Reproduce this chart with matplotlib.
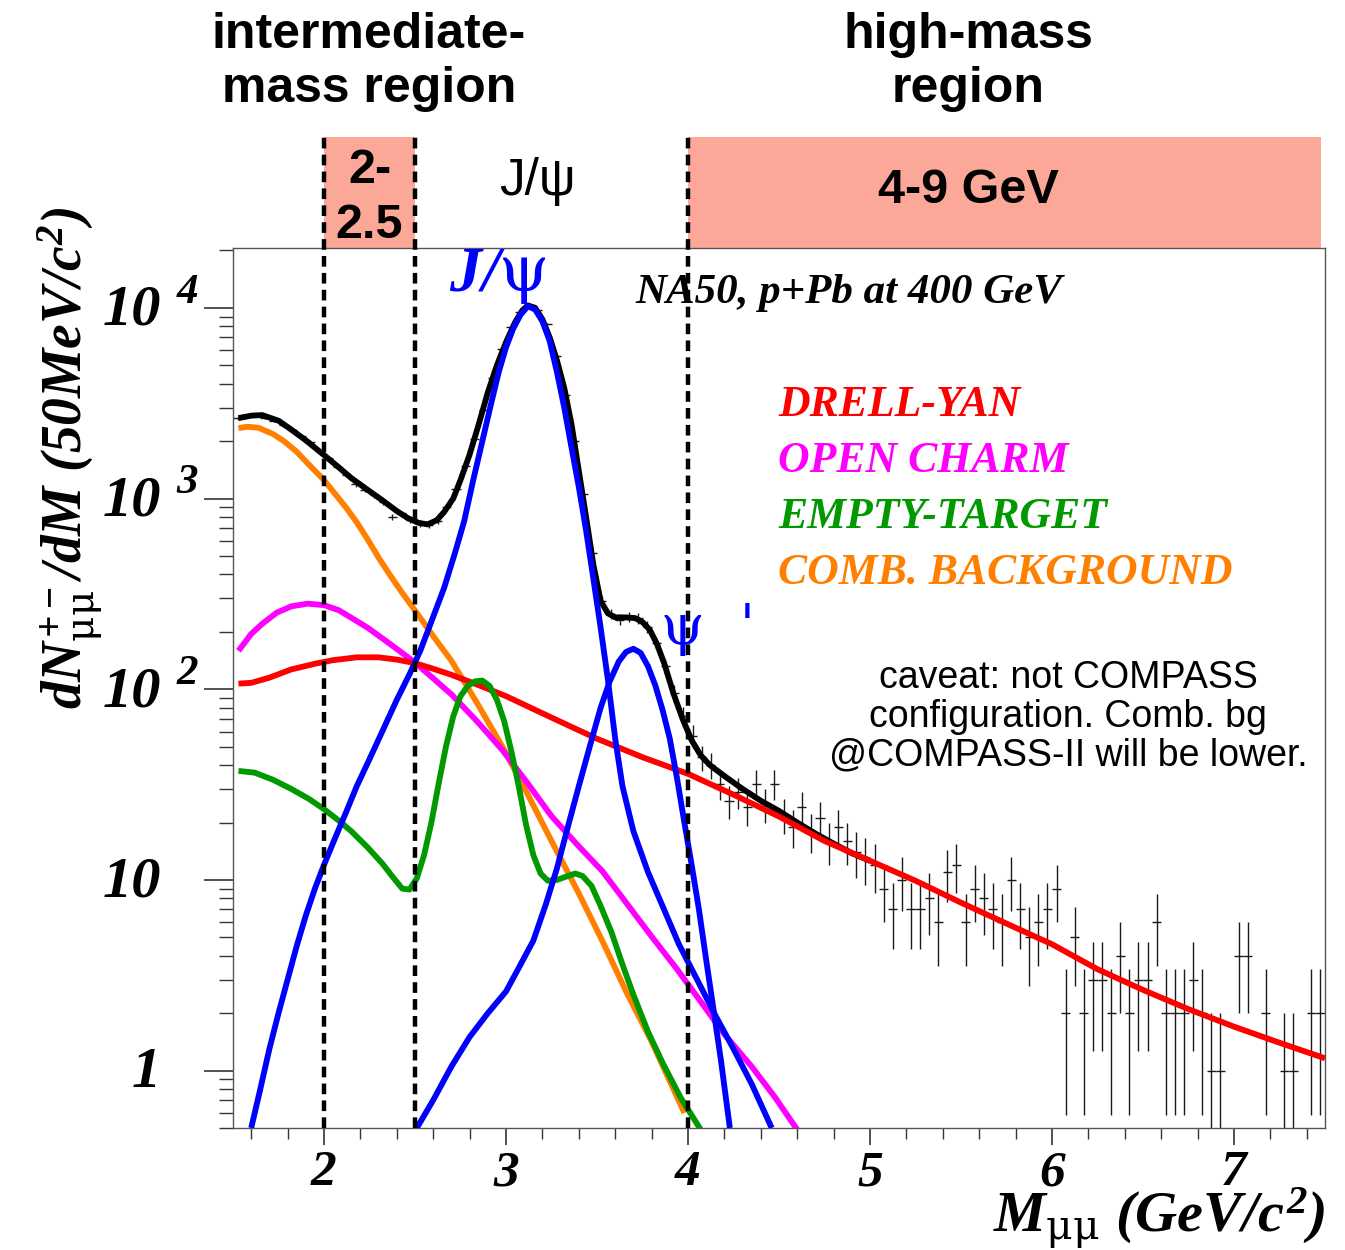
import numpy as np
import matplotlib
matplotlib.use("Agg")
import matplotlib.pyplot as plt
import matplotlib.transforms as mtransforms
from matplotlib.patches import Rectangle

plt.rcParams['mathtext.fontset'] = 'custom'
plt.rcParams['mathtext.rm'] = 'Liberation Serif:bold:italic'
plt.rcParams['mathtext.it'] = 'Liberation Serif:bold:italic'
plt.rcParams['mathtext.bf'] = 'Liberation Serif:bold:italic'
plt.rcParams['mathtext.sf'] = 'DejaVu Serif'

# ---- measured dimuon spectrum, 50 MeV bins (counts) ----
data_m = np.round(np.arange(1.525, 7.5, 0.05), 3)
data_n = [2640, 2730, 2720, 2650, 2560, 2430, 2280, 2120, 1980, 1780,
          1640, 1470, 1330, 1190, 1110, 1040, 960, 800, 835, 770,
          740, 725, 760, 900, 1120, 1480, 2050, 2900, 4300, 6100,
          7900, 9500, 10300, 9800, 8200, 5600, 3500, 2000, 1050, 520,
          290, 248, 232, 240, 236, 212, 175, 132, 95, 72,
          57, 44,
          40, 32, 26, 29, 24, 32, 25, 32, 22, 19,
          24, 18, 21, 16, 19, 16, 14, 13, 12, 9,
          7, 10, 7, 7, 8, 6, 11, 12, 6, 9,
          8, 7, 6, 10, 7, 5, 6, 7, 9, 2,
          5, 2, 3, 3, 2, 4, 2, 3, 3, 6,
          2, 2, 2, 3, 2, 1, 1, 0, 4, 4,
          0, 2, 0, 1, 1, 0, 2, 2]

# ---- fit components ----
total_m = [1.53, 1.60, 1.66, 1.75, 1.82, 1.90, 2.00, 2.08, 2.15, 2.24, 2.32, 2.40,
           2.46, 2.52, 2.57, 2.62, 2.66, 2.71, 2.75, 2.80, 2.85, 2.90, 2.95, 3.00,
           3.05, 3.09, 3.12, 3.16, 3.20, 3.24, 3.28, 3.32, 3.36, 3.40, 3.44, 3.48,
           3.52, 3.56, 3.60, 3.66, 3.71, 3.75, 3.79, 3.83, 3.87, 3.92, 3.97, 4.02,
           4.07, 4.12, 4.21, 4.30, 4.40, 4.50, 4.60, 4.70, 4.80, 4.90, 5.00]
total_y = [2640, 2720, 2740, 2560, 2300, 2020, 1690, 1460, 1280, 1110, 980, 860,
           790, 745, 732, 770, 850, 1000, 1250, 1700, 2450, 3600, 5000, 6600,
           8400, 9700, 10300, 10000, 8700, 7000, 5300, 3800, 2450, 1400, 800, 450,
           290, 250, 238, 238, 236, 225, 205, 172, 136, 95, 70, 54,
           45, 40, 34.5, 30, 26, 23, 20, 17.5, 15.5, 13.8, 12.6]

dy_m = [1.53, 1.60, 1.70, 1.82, 1.95, 2.05, 2.18, 2.30, 2.40, 2.50, 2.60, 2.70,
        2.85, 3.00, 3.25, 3.50, 3.75, 4.00, 4.25, 4.50, 4.75, 5.00, 5.25, 5.50,
        5.75, 6.00, 6.25, 6.50, 6.75, 7.00, 7.25, 7.50]
dy_y = [107, 108, 115, 127, 136, 142, 147, 147, 143, 137, 128, 119,
        105, 92, 71, 55, 44, 36, 28, 21.5, 16, 12.6, 9.9, 7.6,
        5.9, 4.6, 3.4, 2.65, 2.1, 1.7, 1.4, 1.16]

charm_m = [1.53, 1.60, 1.66, 1.74, 1.82, 1.91, 2.00, 2.08, 2.15, 2.24, 2.32, 2.41,
           2.50, 2.60, 2.70, 2.84, 2.98, 3.12, 3.25, 3.40, 3.53, 3.66, 3.80, 3.94,
           4.07, 4.20, 4.35, 4.48, 4.60]
charm_y = [159, 195, 220, 252, 272, 281, 276, 260, 237, 210, 185, 160,
           138, 114, 94, 68, 48, 32, 21.6, 15, 11.1, 7.6, 5.05, 3.4,
           2.3, 1.55, 1.05, 0.72, 0.49]

empty_m = [1.53, 1.62, 1.72, 1.82, 1.92, 2.00, 2.08, 2.15, 2.24, 2.32, 2.38, 2.43,
           2.47, 2.51, 2.55, 2.59, 2.63, 2.67, 2.71, 2.75, 2.79, 2.83, 2.87, 2.91,
           2.95, 2.99, 3.03, 3.07, 3.11, 3.15, 3.19, 3.23, 3.28, 3.33, 3.38, 3.42,
           3.47, 3.52, 3.58, 3.64, 3.70, 3.78, 3.86, 3.96, 4.07]
empty_y = [37.3, 36.5, 33.5, 30, 26.5, 23.5, 20.5, 18, 14.8, 12.2, 10.3, 9.0,
           8.9, 10.2, 13.5, 20, 32, 50, 72, 92, 104, 110, 111, 104,
           88, 68, 47, 31, 19.5, 13.5, 10.8, 9.9, 10.0, 10.4, 10.8, 10.5,
           9.3, 7.3, 5.3, 3.6, 2.5, 1.6, 1.1, 0.72, 0.49]

comb_m = [1.53, 1.58, 1.64, 1.72, 1.78, 1.85, 1.91, 2.00, 2.06, 2.12, 2.18, 2.24,
          2.30, 2.36, 2.43, 2.50, 2.60, 2.70, 2.84, 2.98, 3.12, 3.25, 3.40, 3.53,
          3.66, 3.80, 3.90, 3.98]
comb_y = [2340, 2380, 2350, 2180, 2000, 1760, 1530, 1250, 1060, 900, 750, 610,
          490, 400, 320, 259, 190, 141, 85, 50, 28, 16, 8.5, 4.77,
          2.6, 1.42, 0.88, 0.6]

jpsi_m = [1.60, 1.65, 1.70, 1.75, 1.80, 1.85, 1.90, 1.95, 2.00, 2.06, 2.12, 2.18,
          2.25, 2.32, 2.40, 2.47, 2.53, 2.60, 2.66, 2.72, 2.77, 2.82, 2.87, 2.92,
          2.96, 3.00, 3.04, 3.08, 3.12, 3.16, 3.20, 3.24, 3.28, 3.32, 3.36, 3.40,
          3.44, 3.48, 3.52, 3.56, 3.60, 3.64, 3.70, 3.78, 3.86, 3.95, 4.05, 4.15,
          4.25, 4.35, 4.46]
jpsi_y = [0.5, 0.8, 1.3, 2.0, 3.0, 4.5, 6.5, 9.0, 12, 16.5, 22.5, 31,
          43, 60, 88, 120, 160, 240, 340, 520, 760, 1250, 2000, 3200,
          4600, 6200, 7800, 9200, 10200, 9800, 8500, 6700, 4600, 3000, 1850, 1150,
          680, 380, 210, 112, 55, 31, 18, 11, 7.3, 4.6, 3.0, 1.95,
          1.3, 0.85, 0.5]

psip_m = [2.51, 2.60, 2.70, 2.80, 2.90, 3.00, 3.08, 3.15, 3.22, 3.28, 3.34, 3.40,
          3.46, 3.52, 3.57, 3.62, 3.66, 3.70, 3.74, 3.78, 3.82, 3.86, 3.90, 3.94,
          3.98, 4.02, 4.06, 4.10, 4.14, 4.18, 4.23]
psip_y = [0.5, 0.7, 1.05, 1.5, 2.0, 2.6, 3.6, 4.8, 7.5, 11.5, 19, 31,
          50, 80, 110, 140, 157, 163, 155, 132, 105, 78, 55, 34,
          20, 12, 7, 3.8, 2.1, 1.15, 0.5]

region_edges = [2.0, 2.5, 4.0]
y_ticks = [1, 10, 100, 1000, 10000]
y_tick_text = [("1", ""), ("10", ""), ("10", "2"), ("10", "3"), ("10", "4")]
legend_items = [("DRELL-YAN", "#ff0000"), ("OPEN CHARM", "#ff00ff"),
                ("EMPTY-TARGET", "#009900"), ("COMB. BACKGROUND", "#ff8000")]

W, H = 1345, 1250
fig = plt.figure(figsize=(W / 100, H / 100), dpi=100)
ax = fig.add_axes([233 / W, 1 - 1128 / H, (1325 - 233) / W, (1128 - 248) / H])
ax.set_yscale('log')
ax.set_xlim(1.5, 7.5)
ax.set_ylim(0.5, 2.06e4)

serif = dict(family='Liberation Serif', weight='bold', style='italic')
sans = dict(family='Liberation Sans', weight='bold')

# data with sqrt(N) errors, empty bins skipped
m = np.array(data_m)
n = np.array(data_n, dtype=float)
ok = n > 0
err_lo = np.minimum(np.sqrt(n[ok]), n[ok] - 1e-3)
ax.errorbar(m[ok], n[ok], yerr=[err_lo, np.sqrt(n[ok])], xerr=0.025,
            fmt='none', ecolor='#1a1a1a', elinewidth=1.0, capsize=0, zorder=2)

lw = 4.2
ax.plot(total_m, total_y, color='black', lw=lw, zorder=3, solid_capstyle='butt')
ax.plot(comb_m, comb_y, color='#ff8000', lw=lw, zorder=4, solid_capstyle='butt')
ax.plot(charm_m, charm_y, color='#ff00ff', lw=lw, zorder=4, solid_capstyle='butt')
ax.plot(dy_m, dy_y, color='#ff0000', lw=lw, zorder=5, solid_capstyle='butt')
ax.plot(empty_m, empty_y, color='#009900', lw=lw, zorder=5, solid_capstyle='butt')
ax.plot(psip_m, psip_y, color='#0000ff', lw=lw, zorder=6, solid_capstyle='butt')
ax.plot(jpsi_m, jpsi_y, color='#0000ff', lw=lw, zorder=6, solid_capstyle='butt')

# axes styling
for s in ax.spines.values():
    s.set_color('#555555')
    s.set_linewidth(1.0)
ax.set_xticks([2, 3, 4, 5, 6, 7])
ax.set_xticks(np.arange(1.6, 7.45, 0.2), minor=True)
ax.set_xticklabels(['2', '3', '4', '5', '6', '7'], fontsize=37, **serif)
ax.set_yticks(y_ticks)
ax.yaxis.set_minor_locator(matplotlib.ticker.LogLocator(base=10, subs=np.arange(2, 10)))
ax.yaxis.set_minor_formatter(matplotlib.ticker.NullFormatter())
ax.set_yticklabels([])
ax.tick_params(axis='x', which='major', direction='out', length=12, width=1.2,
               color='#333333', pad=4)
ax.tick_params(axis='x', which='minor', direction='out', length=8, width=1.0, color='#333333')
ax.tick_params(axis='y', which='major', direction='out', length=21, width=1.2, color='#333333')
ax.tick_params(axis='y', which='minor', direction='out', length=10, width=1.0, color='#333333')

ytr = mtransforms.blended_transform_factory(ax.transAxes, ax.transData)
for v, (base, ex) in zip(y_ticks, y_tick_text):
    ax.annotate(base, xy=(0, v), xycoords=ytr, xytext=(-52, -2),
                textcoords='offset points', ha='right', va='center',
                fontsize=42, annotation_clip=False, **serif)
    if ex:
        ax.annotate(ex, xy=(0, v), xycoords=ytr, xytext=(-33, 11),
                    textcoords='offset points', ha='center', va='center',
                    fontsize=31, annotation_clip=False, **serif)

# mass windows above the frame
xtr = mtransforms.blended_transform_factory(ax.transData, ax.transAxes)
box_top = (1128 - 137) / 880
ax.add_patch(Rectangle((2.0, 1.0), 0.5, box_top - 1.0, transform=xtr,
                       facecolor='#fca898', edgecolor='none', clip_on=False, zorder=1))
ax.add_patch(Rectangle((4.0, 1.0), 7.48 - 4.0, box_top - 1.0, transform=xtr,
                       facecolor='#fca898', edgecolor='none', clip_on=False, zorder=1))
for xe in region_edges:
    ax.plot([xe, xe], [0, box_top], transform=xtr, color='black', lw=3.2,
            dashes=(2.4, 1.4), clip_on=False, zorder=7)

ax.text(2.25, 1.057, "2-\n2.5", transform=xtr, ha='center', va='center',
        fontsize=35, linespacing=1.3, **sans)
ax.text(3.17, 1.075, "J/ψ", transform=xtr, ha='center', va='center',
        fontsize=37, family='Liberation Sans')
ax.text(5.54, 1.065, "4-9 GeV", transform=xtr, ha='center', va='center',
        fontsize=35, **sans)
fig.text(369 / W, 1 - 62 / H, "intermediate-\nmass region", ha='center', va='center',
         fontsize=36, linespacing=1.25, **sans)
fig.text(968 / W, 1 - 62 / H, "high-mass\nregion", ha='center', va='center',
         fontsize=36, linespacing=1.25, **sans)

# labels inside the frame
ax.text(2.955, 1.49e4, r"$J/\mathsf{\psi}$", color='#0000ff', ha='center', va='center',
        fontsize=46)
ax.text(4.11, 208, "ψ  '", color='#0000ff', ha='center', va='center',
        fontsize=40, family='DejaVu Serif')
fig.text(849 / W, 1 - 293 / H, "NA50, p+Pb at 400 GeV", ha='center', va='center',
         fontsize=31, **serif)
for i, (lbl, col) in enumerate(legend_items):
    fig.text(778 / W, 1 - (405 + 56 * i) / H, lbl, color=col, ha='left', va='center',
             fontsize=31.5, **serif)
fig.text(1068 / W, 1 - 717 / H,
         "caveat: not COMPASS\nconfiguration. Comb. bg\n@COMPASS-II will be lower.",
         ha='center', va='center', fontsize=27, linespacing=1.1,
         family='Liberation Sans')

fig.text(70 / W, 1 - 458 / H, r"$dN^{+-}_{\mathsf{\mu\mu}}/dM\ (50MeV/c^{2})$",
         rotation=90, ha='center', va='center', fontsize=40)
fig.text(1325 / W, 1 - 1219 / H, r"$M_{\mathsf{\mu\mu}}\ (GeV/c^{2})$", ha='right',
         va='center', fontsize=42)

fig.savefig("out.png", dpi=100)
